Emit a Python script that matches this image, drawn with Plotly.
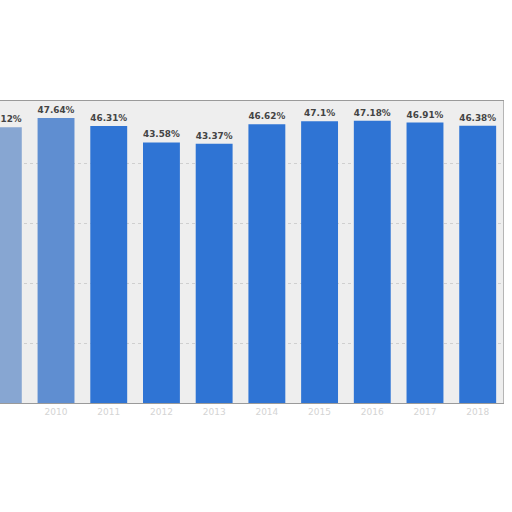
import plotly.graph_objects as go

# bar categories (the x labels are blurred in the source, years assumed)
years = ["2009", "2010", "2011", "2012", "2013", "2014", "2015", "2016", "2017", "2018"]
shares = [46.12, 47.64, 46.31, 43.58, 43.37, 46.62, 47.1, 47.18, 46.91, 46.38]
share_labels = ["46.12%", "47.64%", "46.31%", "43.58%", "43.37%",
                "46.62%", "47.1%", "47.18%", "46.91%", "46.38%"]

BAR_BLUE = "#2f74d4"
# the left-most bars look washed out in the source picture
bar_colors = ["#87a6d2", "#5f8ed1"] + [BAR_BLUE] * (len(years) - 2)

fig = go.Figure(
    go.Bar(
        x=list(range(len(years))),
        y=shares,
        text=share_labels,
        textposition="outside",
        textfont=dict(family="DejaVu Sans", size=9, color="#444444", weight="bold"),
        marker=dict(color=bar_colors, line=dict(width=0)),
        cliponaxis=False,
    )
)

fig.update_layout(
    width=512,
    height=512,
    margin=dict(l=0, r=9, t=101, b=109),
    paper_bgcolor="white",
    plot_bgcolor="#eeeeee",
    bargap=0.3,
    showlegend=False,
    font=dict(family="DejaVu Sans", size=9, color="#d4d4d4"),
)

fig.update_xaxes(
    range=[-0.063, 9.48],
    tickmode="array",
    tickvals=list(range(len(years))),
    ticktext=years,
    showgrid=False,
    showline=True,
    linecolor="#9a9a9a",
    linewidth=1,
    mirror=True,
    ticks="",
    zeroline=False,
)

fig.update_yaxes(
    range=[0, 50.5],
    tickvals=[10, 20, 30, 40],
    showticklabels=False,
    gridcolor="#cfcfcf",
    griddash="dot",
    showline=True,
    linecolor="#b5b5b5",
    linewidth=1,
    mirror=True,
    zeroline=False,
)

# drop the default page margin so the chart sits at the window's corner
fig.write_html(
    "out.html",
    config={"displayModeBar": False},
    post_script="document.body.style.margin = '0';",
)
